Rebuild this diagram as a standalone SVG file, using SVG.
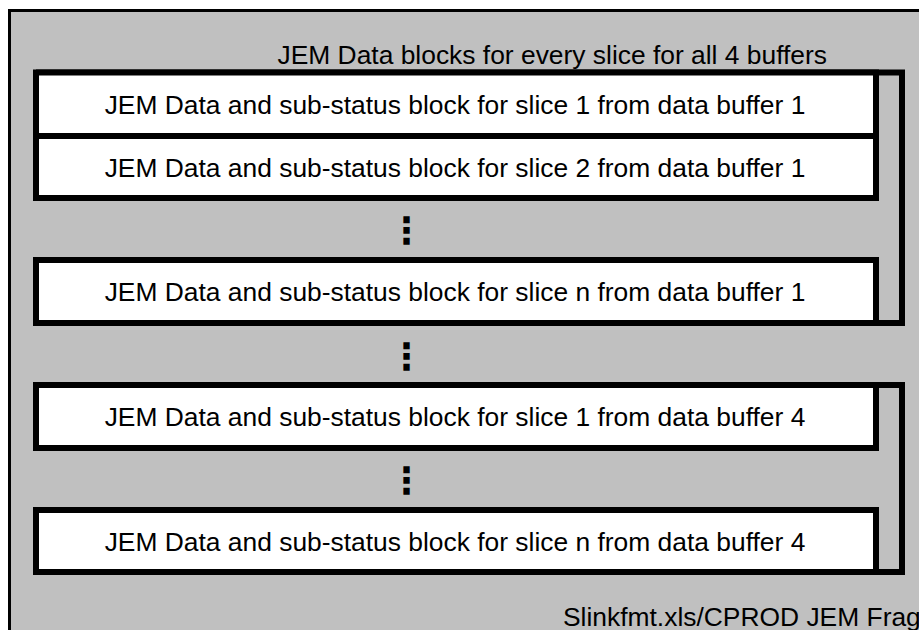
<svg xmlns="http://www.w3.org/2000/svg" width="919" height="630" viewBox="0 0 919 630">
<style>
.frame{fill:#C0C0C0;stroke:#000;stroke-width:3}
.box{fill:#fff;stroke:#000;stroke-width:6}
.br{fill:none;stroke:#000;stroke-width:6;stroke-linejoin:miter}
.t{font-family:"Liberation Sans",Arial,sans-serif;font-size:26.4px;fill:#000}
.c{text-anchor:middle}
.d{font-family:"DejaVu Sans",sans-serif;font-size:36px;font-weight:bold;fill:#000;text-anchor:middle}
</style>
<rect class="frame" x="9.5" y="10.5" width="930" height="640"/>
<text class="t" x="277.5" y="64">JEM Data blocks for every slice for all 4 buffers</text>
<g id="connectors">
<path class="br" d="M36 72.5 H902 V323 H876"/>
<path class="br" d="M36 385 H902 V572 H876"/>
</g>
<g id="block-s1-b1">
<rect class="box" x="36" y="72.5" width="840" height="63.5"/>
<text class="t c" x="455" y="113.5">JEM Data and sub-status block for slice 1 from data buffer 1</text>
</g>
<g id="block-s2-b1">
<rect class="box" x="36" y="136" width="840" height="62"/>
<text class="t c" x="455" y="176.5">JEM Data and sub-status block for slice 2 from data buffer 1</text>
</g>
<g id="dots1">
<text class="d" x="406.5" y="243">⋮</text>
</g>
<g id="block-sn-b1">
<rect class="box" x="36" y="260" width="840" height="63"/>
<text class="t c" x="455" y="301">JEM Data and sub-status block for slice n from data buffer 1</text>
</g>
<g id="dots2">
<text class="d" x="406.5" y="368.5">⋮</text>
</g>
<g id="block-s1-b4">
<rect class="box" x="36" y="385" width="840" height="63"/>
<text class="t c" x="455" y="426">JEM Data and sub-status block for slice 1 from data buffer 4</text>
</g>
<g id="dots3">
<text class="d" x="406.5" y="492.5">⋮</text>
</g>
<g id="block-sn-b4">
<rect class="box" x="36" y="510" width="840" height="62"/>
<text class="t c" x="455" y="550.5">JEM Data and sub-status block for slice n from data buffer 4</text>
</g>
<text class="t" x="563" y="626">Slinkfmt.xls/CPROD JEM Frag</text>
</svg>
